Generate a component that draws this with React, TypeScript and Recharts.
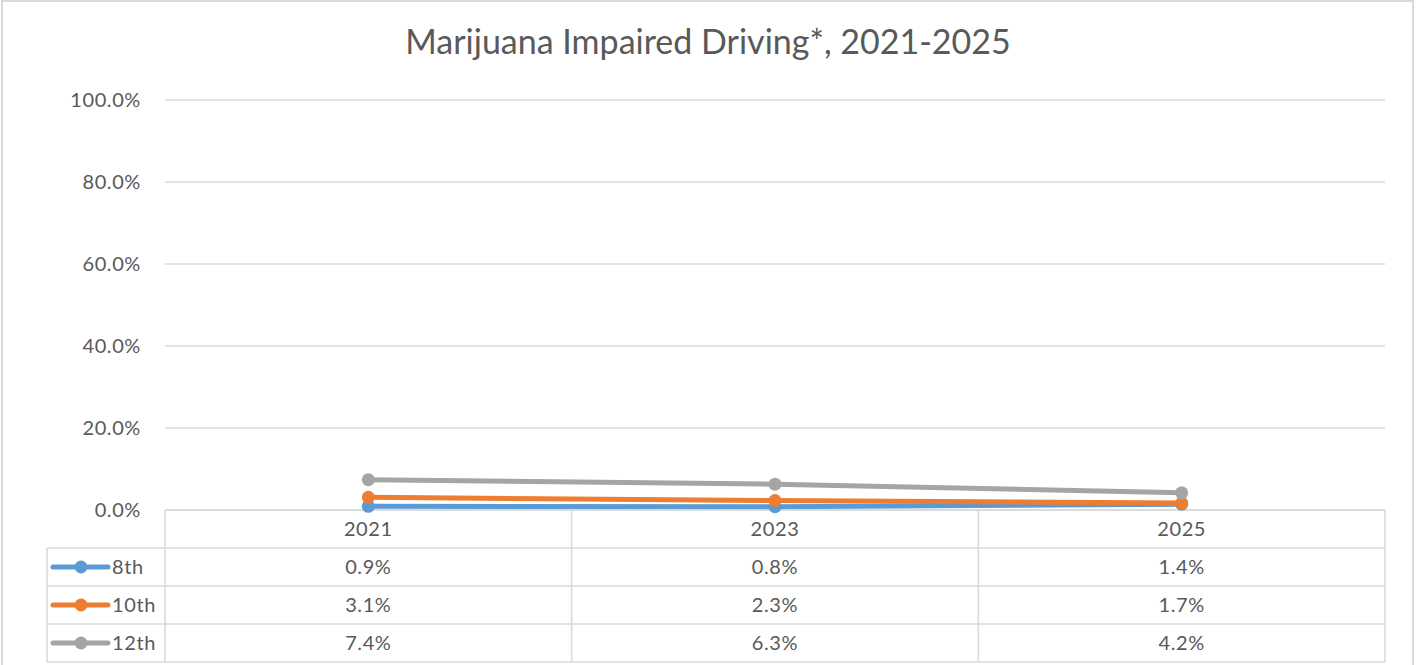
import React from 'react';
import { LineChart, Line, XAxis, YAxis, CartesianGrid } from 'recharts';

const years = ['2021', '2023', '2025'];
const grade8 = [0.9, 0.8, 1.4];
const grade10 = [3.1, 2.3, 1.7];
const grade12 = [7.4, 6.3, 4.2];
const yTicks = [0, 20, 40, 60, 80, 100];

const series = [
  { key: 'g8', name: '8th', color: '#5B9BD5', values: grade8 },
  { key: 'g10', name: '10th', color: '#ED7D31', values: grade10 },
  { key: 'g12', name: '12th', color: '#A5A5A5', values: grade12 },
];

const data = years.map((year, i) => ({
  year,
  g8: grade8[i],
  g10: grade10[i],
  g12: grade12[i],
}));

const W = 1416;
const H = 665;
const M = { top: 100, right: 31, bottom: 0, left: 0 };
const Y_W = 165;
const PLOT_W = W - M.left - M.right - Y_W;
const ROW_H = 38;
const LEGEND_W = 118;
const GRID = '#d9d9d9';
const TEXT = '#595959';
const FONT = 'Lato, "Open Sans", sans-serif';
const FS = 20;
const LS = 0.6;

const fmt = (v: number) => `${v.toFixed(1)}%`;

// draws one column of the data table under each category
const TableTick = (props: any) => {
  const { x, y, payload, index } = props;
  const bw = PLOT_W / years.length;
  const left = x - bw / 2;
  const right = x + bw / 2;
  const bottom = y + ROW_H * 4;
  const idx = index ?? years.indexOf(payload.value);
  const txt = { fill: TEXT, fontSize: FS, fontFamily: FONT, letterSpacing: LS };
  return (
    <g>
      <line x1={left} y1={y} x2={left} y2={bottom} stroke={GRID} strokeWidth={1.5} />
      {idx === years.length - 1 && (
        <line x1={right} y1={y} x2={right} y2={bottom} stroke={GRID} strokeWidth={1.5} />
      )}
      {[1, 2, 3, 4].map((r) => (
        <line key={r} x1={left} y1={y + ROW_H * r} x2={right} y2={y + ROW_H * r} stroke={GRID} strokeWidth={1.5} />
      ))}
      <text x={x} y={y + ROW_H / 2} dy="0.35em" textAnchor="middle" {...txt}>
        {payload.value}
      </text>
      {series.map((s, r) => (
        <text key={s.key} x={x} y={y + ROW_H * (r + 1.5)} dy="0.35em" textAnchor="middle" {...txt}>
          {fmt(s.values[idx])}
        </text>
      ))}
      {idx === 0 && (
        <g>
          <line x1={left - LEGEND_W} y1={y + ROW_H} x2={left - LEGEND_W} y2={bottom} stroke={GRID} strokeWidth={1.5} />
          {[1, 2, 3, 4].map((r) => (
            <line key={r} x1={left - LEGEND_W} y1={y + ROW_H * r} x2={left} y2={y + ROW_H * r} stroke={GRID} strokeWidth={1.5} />
          ))}
          {series.map((s, r) => {
            const cy = y + ROW_H * (r + 1.5);
            const lx = left - LEGEND_W;
            return (
              <g key={s.key}>
                <line x1={lx + 6} y1={cy} x2={lx + 61} y2={cy} stroke={s.color} strokeWidth={5} strokeLinecap="round" />
                <circle cx={lx + 34} cy={cy} r={6.5} fill={s.color} />
                <text x={lx + 65} y={cy} dy="0.35em" {...txt}>
                  {s.name}
                </text>
              </g>
            );
          })}
        </g>
      )}
    </g>
  );
};

export default function App() {
  return (
    <div style={{ position: 'absolute', left: 0, top: 0, width: W, height: H, background: '#fff', overflow: 'hidden' }}>
      <div
        style={{
          position: 'absolute',
          left: 1,
          top: 0,
          width: 1413,
          height: H + 10,
          border: `2px solid ${GRID}`,
          boxSizing: 'border-box',
        }}
      />
      <div
        style={{
          position: 'absolute',
          top: 21,
          left: 0,
          width: W,
          textAlign: 'center',
          fontFamily: FONT,
          fontSize: 34,
          lineHeight: 1.2,
          color: TEXT,
        }}
      >
        Marijuana Impaired Driving*, 2021-2025
      </div>
      <LineChart width={W} height={H} data={data} margin={M} style={{ position: 'absolute', left: 0, top: 0 }}>
        <CartesianGrid horizontal vertical={false} stroke={GRID} strokeWidth={1.5} />
        <XAxis
          dataKey="year"
          scale="band"
          height={155}
          tickSize={0}
          tickMargin={0}
          tickLine={false}
          axisLine={{ stroke: GRID, strokeWidth: 1.5 }}
          interval={0}
          tick={<TableTick />}
        />
        <YAxis
          width={Y_W}
          domain={[0, 100]}
          ticks={yTicks}
          tickFormatter={fmt}
          axisLine={false}
          tickLine={false}
          tickSize={6}
          tickMargin={18}
          tick={{ fill: TEXT, fontSize: FS, fontFamily: FONT, letterSpacing: LS }}
        />
        {series.map((s) => (
          <Line
            key={s.key}
            dataKey={s.key}
            name={s.name}
            stroke={s.color}
            strokeWidth={5}
            dot={{ r: 6.5, fill: s.color, stroke: s.color, strokeWidth: 0 }}
            activeDot={false}
            isAnimationActive={false}
          />
        ))}
      </LineChart>
    </div>
  );
}
